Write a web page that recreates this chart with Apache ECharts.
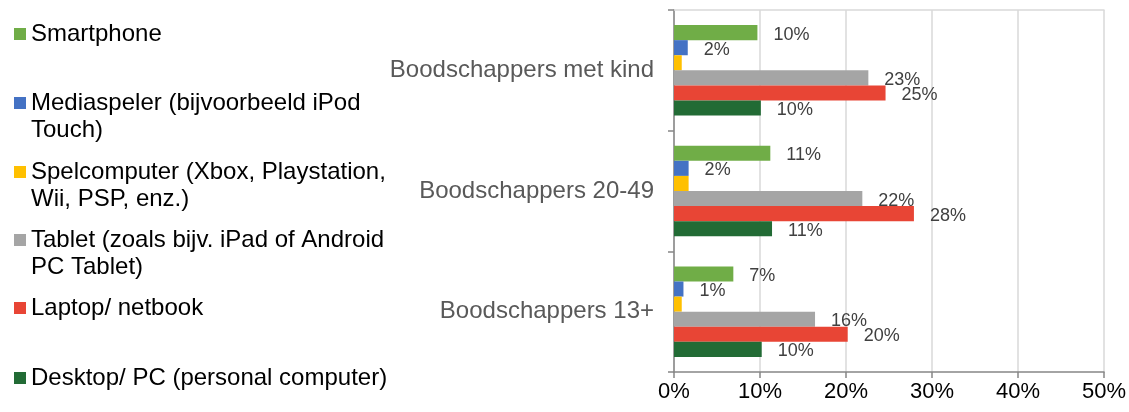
<!DOCTYPE html>
<html><head><meta charset="utf-8">
<script src="https://cdn.jsdelivr.net/npm/echarts@6/dist/echarts.min.js"></script>
<style>html,body{margin:0;padding:0;background:#fff}#c{width:1129px;height:412px}</style>
</head><body><div id="c"></div>
<script>
var categories = ['Boodschappers met kind', 'Boodschappers 20-49', 'Boodschappers 13+'];
var seriesNames = ['Smartphone', 'Mediaspeler (bijvoorbeeld iPod Touch)', 'Spelcomputer (Xbox, Playstation, Wii, PSP, enz.)', 'Tablet (zoals bijv. iPad of Android PC Tablet)', 'Laptop/ netbook', 'Desktop/ PC (personal computer)'];
var legendLines = [['Smartphone'], ['Mediaspeler (bijvoorbeeld iPod', 'Touch)'], ['Spelcomputer (Xbox, Playstation,', 'Wii, PSP, enz.)'], ['Tablet (zoals bijv. iPad of Android', 'PC Tablet)'], ['Laptop/ netbook'], ['Desktop/ PC (personal computer)']];
var smartphone = [9.7, 11.2, 6.9];
var mediaspeler = [1.6, 1.7, 1.1];
var spelcomputer = [0.9, 1.7, 0.9];
var tablet = [22.6, 21.9, 16.4];
var laptop = [24.6, 27.9, 20.2];
var desktop = [10.1, 11.4, 10.2];
var xTicks = [0, 10, 20, 30, 40, 50];

var values = [smartphone, mediaspeler, spelcomputer, tablet, laptop, desktop];
var colors = ['#70ad47', '#4472c4', '#ffc000', '#a5a5a5', '#e84535', '#226b35'];
var showLabel = [true, true, false, true, true, true];
var legendCenters = [34, 103, 172, 240, 308, 378];

var chart = echarts.init(document.getElementById('c'));
var LH = 27;
var legends = seriesNames.map(function (n, i) {
  var twoLines = legendLines[i].length > 1;
  var top = legendCenters[i] - (twoLines ? 40.5 : 13.5);
  return {
    data: [n], orient: 'vertical', left: 14, top: top, padding: 0,
    itemWidth: 12, itemHeight: 12, icon: 'rect', selectedMode: false,
    formatter: function () { return (twoLines ? ' \n' : '') + legendLines[i].join('\n'); },
    textStyle: { fontFamily: 'Liberation Sans, Arial, sans-serif', fontSize: 24, color: '#000', lineHeight: LH }
  };
});

var option = {
  animation: false,
  legend: legends,
  grid: { left: 674, right: 25, top: 10, bottom: 40, containLabel: false },
  xAxis: [{
    type: 'value', min: xTicks[0], max: xTicks[xTicks.length - 1], interval: 10,
    axisLine: { show: true, lineStyle: { color: '#868686', width: 1.5 } },
    axisTick: { show: true, length: 6, lineStyle: { color: '#868686', width: 1.5 } },
    axisLabel: { formatter: '{value}%', fontFamily: 'Liberation Sans, Arial, sans-serif', fontSize: 22, color: '#000', margin: 9 },
    splitLine: { show: true, lineStyle: { color: '#d9d9d9', width: 1.5 } }
  }, {
    type: 'value', position: 'top', min: 0, max: 50, interval: 10,
    axisLine: { show: true, lineStyle: { color: '#d9d9d9', width: 1.5 } },
    axisTick: { show: false }, axisLabel: { show: false }, splitLine: { show: false }
  }],
  yAxis: {
    type: 'category', data: categories, inverse: true,
    axisLine: { show: true, lineStyle: { color: '#868686', width: 1.5 } },
    axisTick: { show: true, length: 6, lineStyle: { color: '#868686', width: 1.5 } },
    axisLabel: { fontFamily: 'Liberation Sans, Arial, sans-serif', fontSize: 24, color: '#595959', margin: 20, padding: [3, 0, 0, 0] }
  },
  series: seriesNames.map(function (n, i) {
    return {
      name: n, type: 'bar', data: values[i], barGap: '0%', barCategoryGap: '25%',
      itemStyle: { color: colors[i] },
      label: {
        show: showLabel[i], position: 'right', distance: 16, offset: [0, 2],
        fontFamily: 'Liberation Sans, Arial, sans-serif', fontSize: 18, color: '#404040',
        formatter: function (p) { return Math.round(p.value) + '%'; }
      }
    };
  })
};
chart.setOption(option);
</script></body></html>
